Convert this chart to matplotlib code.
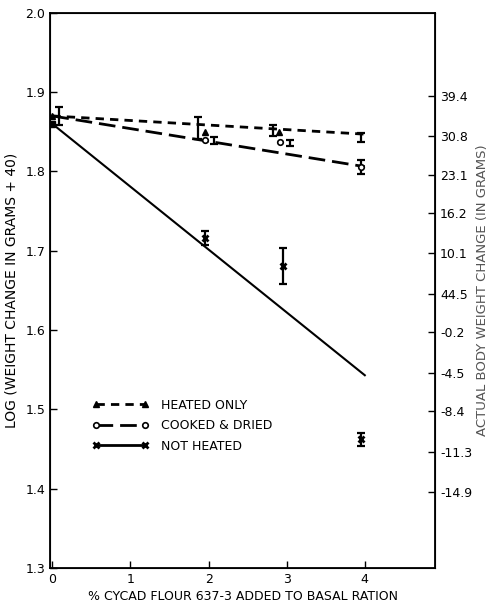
import numpy as np
import matplotlib.pyplot as plt
from matplotlib.lines import Line2D

plt.rcParams['font.family'] = ['DejaVu Sans']
plt.rcParams['font.size'] = 9

# fitted lines (log weight change vs % cycad flour)
fit_x = [0, 4]
heated_fit = [1.870, 1.847]
cooked_fit = [1.870, 1.806]
notheated_fit = [1.860, 1.543]

# observed means with error bars
heated_x = [0.08, 1.86, 2.83, 3.95]
heated_y = [1.870, 1.855, 1.852, 1.843]
heated_err = [0.011, 0.014, 0.007, 0.006]
heated_mx = [1.95, 2.90]
heated_my = [1.850, 1.850]

cooked_x = [2.07, 3.04, 3.95]
cooked_y = [1.839, 1.836, 1.806]
cooked_err = [0.004, 0.004, 0.009]
cooked_mx = [1.96, 2.92, 3.95]
cooked_my = [1.840, 1.837, 1.806]

notheated_x = [1.95, 2.95, 3.95]
notheated_y = [1.716, 1.681, 1.462]
notheated_err = [0.009, 0.023, 0.008]

right_pos = [1.895, 1.845, 1.795, 1.747, 1.697, 1.646, 1.598, 1.546, 1.498, 1.446, 1.396]
right_labels = ['39.4', '30.8', '23.1', '16.2', '10.1', '44.5', '-0.2', '-4.5', '-8.4', '-11.3', '-14.9']

fig = plt.figure(figsize=(4.95, 6.12), dpi=100)
ax = fig.add_axes([0.101, 0.072, 0.778, 0.907])

ax.plot(fit_x, heated_fit, color='black', lw=2, linestyle=(0, (3, 2.2)))
ax.plot(fit_x, cooked_fit, color='black', lw=2, linestyle=(0, (6, 2.5)))
ax.plot(fit_x, notheated_fit, color='black', lw=1.5)
ax.plot([0], [1.860], marker='s', ms=4, color='black')
ax.plot([0], [1.870], marker='^', ms=4, color='black')

ek = dict(fmt='none', ecolor='black', elinewidth=1.6, capsize=3, capthick=1.6)
ax.errorbar(heated_x, heated_y, yerr=heated_err, **ek)
ax.errorbar(cooked_x, cooked_y, yerr=cooked_err, **ek)
ax.errorbar(notheated_x, notheated_y, yerr=notheated_err, **ek)
ax.plot(heated_mx, heated_my, '^', ms=5, color='black', ls='none')
ax.plot(cooked_mx, cooked_my, 'o', ms=4, mfc='white', mec='black', mew=1.2, ls='none')
ax.plot(notheated_x, notheated_y, 'x', ms=5, mew=2, color='black', ls='none')

ax.set_xlim(-0.03, 4.9)
ax.set_ylim(1.3, 2.0)
ax.set_xticks([0, 1, 2, 3, 4])
ax.set_xticklabels(['0', '1', '2', '3', '4'])
ax.set_yticks([1.3, 1.4, 1.5, 1.6, 1.7, 1.8, 1.9, 2.0])
ax.set_yticklabels(['1.3', '1.4', '1.5', '1.6', '1.7', '1.8', '1.9', '2.0'])
ax.tick_params(direction='in', length=5, width=1)
ax.tick_params(axis='y', labelsize=9)
for s in ax.spines.values():
    s.set_linewidth(1.3)

ax.set_xlabel('% CYCAD FLOUR 637-3 ADDED TO BASAL RATION', fontsize=9, labelpad=3)
ax.set_ylabel('LOG (WEIGHT CHANGE IN GRAMS + 40)', fontsize=10, labelpad=5)

ax2 = ax.twinx()
ax2.set_ylim(1.3, 2.0)
ax2.set_yticks(right_pos)
ax2.set_yticklabels(right_labels)
ax2.tick_params(direction='in', length=5, width=1, labelsize=9)
ax2.set_ylabel('ACTUAL BODY WEIGHT CHANGE (IN GRAMS)', fontsize=9.5, labelpad=3, color='#555555')

handles = [
    Line2D([], [], color='black', lw=2, linestyle=(0, (3, 2.2)), marker='^', ms=5),
    Line2D([], [], color='black', lw=2, linestyle=(0, (6, 2.5)), marker='o', ms=4, mfc='white', mew=1.2),
    Line2D([], [], color='black', lw=2, marker='x', ms=5, mew=2),
]
ax.legend(handles, ['HEATED ONLY', 'COOKED & DRIED', 'NOT HEATED'], loc='upper left',
          bbox_to_anchor=(0.08, 0.325), frameon=False, numpoints=2, handlelength=4.5,
          handletextpad=1.0, labelspacing=0.6, fontsize=9)

fig.savefig('out.png', dpi=100)
